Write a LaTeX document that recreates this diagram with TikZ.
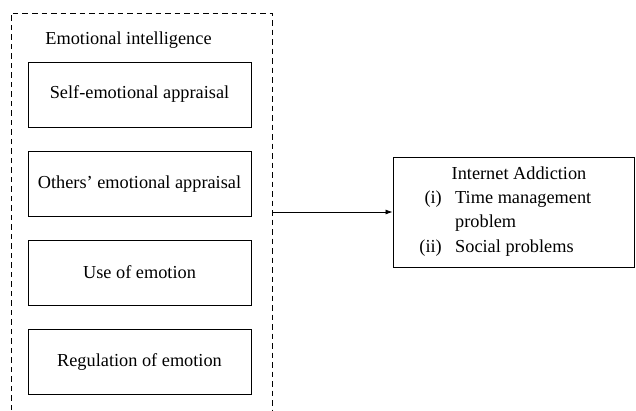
\documentclass[tikz,border=0pt]{standalone}
\usepackage{fontspec}
\setmainfont{Liberation Serif}
\usetikzlibrary{arrows.meta}
\begin{document}
\begin{tikzpicture}[x=1pt,y=-1pt,
  every node/.style={font=\fontsize{18.3}{21}\selectfont, inner sep=0pt},
  dimbox/.style={draw, line width=0.9pt, minimum width=223pt, minimum height=65pt},
  frame/.style={draw, line width=0.8pt, dash pattern=on 5.5pt off 4pt},
  conn/.style={draw, line width=0.8pt, -{Latex[length=7pt,width=5pt]}}
]
\useasboundingbox (0,0) rectangle (636,410);
\draw[frame] (11,410) -- (11,13) -- (272,13) -- (272,410);
\node (ei) at (128.5,40) {Emotional intelligence};
\node[dimbox] (b1) at (139.5,94.5) {Self-emotional appraisal};
\node[dimbox] (b2) at (139.5,184) {Others' emotional appraisal};
\node[dimbox] (b3) at (139.5,272.5) {Use of emotion};
\node[dimbox] (b4) at (139.5,362) {Regulation of emotion};
\node[draw, line width=0.9pt, minimum width=241pt, minimum height=110pt] (ia) at (513.5,212) {};
\coordinate (src) at (272,212);
\draw[conn] (src) -- (ia.west);
\node (iat) at (519,173) {Internet Addiction};
\node[anchor=east] (l1) at (442,199) {(i)};
\node[anchor=west] (t1) at (455,199) {Time management};
\node[anchor=west] (t1b) at (455,223) {problem};
\node[anchor=east] (l2) at (442,248) {(ii)};
\node[anchor=west] (t2) at (455,248) {Social problems};
\end{tikzpicture}
\end{document}
